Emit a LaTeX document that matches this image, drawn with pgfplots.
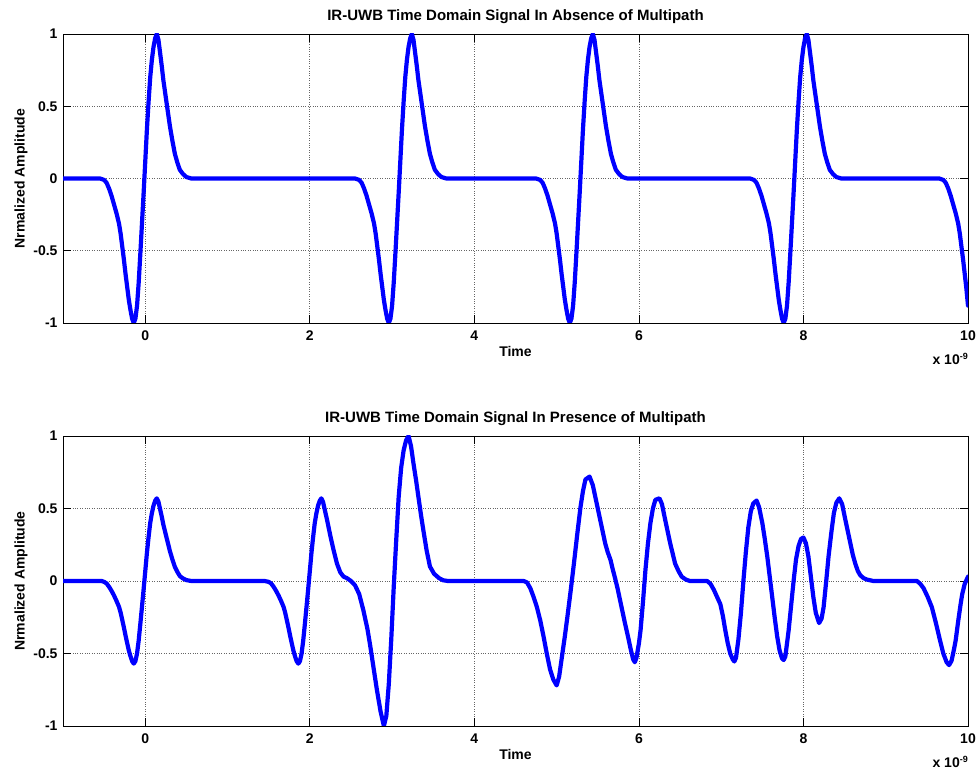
\documentclass[border=0pt]{standalone}
\usepackage{pgfplots}
\pgfplotsset{compat=1.18}
\usepackage{fontspec}
\setmainfont{Liberation Sans}
\definecolor{mblue}{RGB}{0,0,255}
\pgfplotsset{
 myax/.style={
  scale only axis, width=905pt, no markers, clip mode=individual,
  xmin=-1, xmax=10, ymin=-1, ymax=1,
  xtick={0,2,4,6,8,10}, ytick={-1,-0.5,0,0.5,1},
  xticklabels={0,2,4,6,8,10}, yticklabels={-1,-0.5,0,0.5,1},
  tick align=inside, major tick length=8pt,
  grid=major, major grid style={dotted, black!60, line width=0.7pt},
  axis line style={black, line width=0.8pt},
  tick style={black, line width=0.8pt},
  ticklabel style={font=\fontsize{14}{14}\selectfont\bfseries},
  xticklabel style={yshift=-4pt},
  yticklabel style={xshift=-2pt},
  title style={font=\fontsize{15}{15}\selectfont\bfseries, at={(axis description cs:0.5,1)}, anchor=south, yshift=0.5pt},
  every axis x label/.style={at={(axis description cs:0.5,0)}, anchor=north, yshift=-20pt, font=\fontsize{14}{14}\selectfont\bfseries},
  every axis y label/.style={at={(axis description cs:-0.0464,0.5)}, rotate=90, anchor=center, font=\fontsize{14}{14}\selectfont\bfseries},
  xlabel={Time}, ylabel={Nrmalized Amplitude},
  every axis plot/.append style={mblue, line width=4.2pt, line join=round, line cap=round},
 }
}
\begin{document}
\begin{tikzpicture}
\path[use as bounding box] (0pt,0pt) rectangle (977pt,773pt);
\begin{axis}[myax, at={(63pt,450pt)}, anchor=south west, height=289pt,
  title={IR-UWB Time Domain Signal In Absence of Multipath}]
\addplot coordinates {
(-1,0) (-0.55,0) (-0.50,-0.01) (-0.47,-0.03) (-0.44,-0.07) (-0.41,-0.12) (-0.38,-0.18) (-0.35,-0.24) (-0.32,-0.31) (-0.30,-0.38) (-0.28,-0.47) (-0.26,-0.56) (-0.24,-0.66) (-0.22,-0.75) (-0.20,-0.84) (-0.18,-0.91) (-0.16,-0.97) (-0.14,-1.00) (-0.12,-0.97) (-0.10,-0.88) (-0.08,-0.72) (-0.06,-0.52) (-0.04,-0.31) (-0.02,-0.10) (0.00,0.12) (0.02,0.34) (0.04,0.53) (0.06,0.70) (0.08,0.82) (0.10,0.91) (0.12,0.97) (0.14,1.00) (0.16,0.96) (0.18,0.87) (0.20,0.78) (0.22,0.68) (0.24,0.60) (0.26,0.52) (0.28,0.44) (0.30,0.36) (0.33,0.26) (0.36,0.17) (0.39,0.11) (0.42,0.06) (0.46,0.03) (0.50,0.01) (0.56,0)
(2.55,0) (2.60,-0.01) (2.63,-0.03) (2.66,-0.07) (2.69,-0.12) (2.72,-0.18) (2.75,-0.24) (2.78,-0.31) (2.80,-0.38) (2.82,-0.47) (2.84,-0.56) (2.86,-0.66) (2.88,-0.75) (2.90,-0.84) (2.92,-0.91) (2.94,-0.97) (2.96,-1.00) (2.98,-0.97) (3.00,-0.88) (3.02,-0.72) (3.04,-0.52) (3.06,-0.31) (3.08,-0.10) (3.10,0.12) (3.12,0.34) (3.14,0.53) (3.16,0.70) (3.18,0.82) (3.20,0.91) (3.22,0.97) (3.24,1.00) (3.26,0.96) (3.28,0.87) (3.30,0.78) (3.32,0.68) (3.34,0.60) (3.36,0.52) (3.38,0.44) (3.40,0.36) (3.43,0.26) (3.46,0.17) (3.49,0.11) (3.52,0.06) (3.56,0.03) (3.60,0.01) (3.66,0)
(4.75,0) (4.80,-0.01) (4.83,-0.03) (4.86,-0.07) (4.89,-0.12) (4.92,-0.18) (4.95,-0.24) (4.98,-0.31) (5.00,-0.38) (5.02,-0.47) (5.04,-0.56) (5.06,-0.66) (5.08,-0.75) (5.10,-0.84) (5.12,-0.91) (5.14,-0.97) (5.16,-1.00) (5.18,-0.97) (5.20,-0.88) (5.22,-0.72) (5.24,-0.52) (5.26,-0.31) (5.28,-0.10) (5.30,0.12) (5.32,0.34) (5.34,0.53) (5.36,0.70) (5.38,0.82) (5.40,0.91) (5.42,0.97) (5.44,1.00) (5.46,0.96) (5.48,0.87) (5.50,0.78) (5.52,0.68) (5.54,0.60) (5.56,0.52) (5.58,0.44) (5.60,0.36) (5.63,0.26) (5.66,0.17) (5.69,0.11) (5.72,0.06) (5.76,0.03) (5.80,0.01) (5.86,0)
(7.35,0) (7.40,-0.01) (7.43,-0.03) (7.46,-0.07) (7.49,-0.12) (7.52,-0.18) (7.55,-0.24) (7.58,-0.31) (7.60,-0.38) (7.62,-0.47) (7.64,-0.56) (7.66,-0.66) (7.68,-0.75) (7.70,-0.84) (7.72,-0.91) (7.74,-0.97) (7.76,-1.00) (7.78,-0.97) (7.80,-0.88) (7.82,-0.72) (7.84,-0.52) (7.86,-0.31) (7.88,-0.10) (7.90,0.12) (7.92,0.34) (7.94,0.53) (7.96,0.70) (7.98,0.82) (8.00,0.91) (8.02,0.97) (8.04,1.00) (8.06,0.96) (8.08,0.87) (8.10,0.78) (8.12,0.68) (8.14,0.60) (8.16,0.52) (8.18,0.44) (8.20,0.36) (8.23,0.26) (8.26,0.17) (8.29,0.11) (8.32,0.06) (8.36,0.03) (8.40,0.01) (8.46,0)
(9.65,0) (9.70,-0.01) (9.73,-0.03) (9.76,-0.07) (9.79,-0.12) (9.82,-0.18) (9.85,-0.24) (9.88,-0.31) (9.90,-0.38) (9.92,-0.47) (9.94,-0.56) (9.96,-0.66) (9.98,-0.76) (10.0,-0.88)
};
\node[anchor=north east, font=\fontsize{14}{14}\selectfont\bfseries, inner sep=0pt, yshift=-30pt] at (rel axis cs:1,0) {x 10\raisebox{5pt}{\fontsize{9}{9}\selectfont -9}};
\end{axis}
\begin{axis}[myax, at={(63pt,47pt)}, anchor=south west, height=290pt,
  title={IR-UWB Time Domain Signal In Presence of Multipath}]
\addplot coordinates {
(-1,0) (-0.53,0) (-0.50,-0.006) (-0.47,-0.017) (-0.44,-0.04) (-0.41,-0.068) (-0.38,-0.10) (-0.35,-0.137) (-0.32,-0.177) (-0.30,-0.217) (-0.28,-0.268) (-0.26,-0.32) (-0.24,-0.376) (-0.22,-0.428) (-0.20,-0.479) (-0.18,-0.519) (-0.16,-0.553) (-0.14,-0.57) (-0.12,-0.553) (-0.10,-0.50) (-0.08,-0.41) (-0.06,-0.296) (-0.04,-0.177) (-0.02,-0.057) (0.00,0.068) (0.02,0.194) (0.04,0.302) (0.06,0.40) (0.08,0.467) (0.10,0.519) (0.12,0.553) (0.14,0.57) (0.16,0.547) (0.18,0.496) (0.20,0.445) (0.22,0.388) (0.24,0.342) (0.26,0.296) (0.28,0.251) (0.30,0.205) (0.33,0.148) (0.36,0.097) (0.39,0.063) (0.42,0.034) (0.46,0.017) (0.50,0.006) (0.56,0)
(1.45,0) (1.50,-0.006) (1.53,-0.017) (1.56,-0.04) (1.59,-0.068) (1.62,-0.10) (1.65,-0.137) (1.68,-0.177) (1.70,-0.217) (1.72,-0.268) (1.74,-0.32) (1.76,-0.376) (1.78,-0.428) (1.80,-0.479) (1.82,-0.519) (1.84,-0.553) (1.86,-0.57) (1.88,-0.553) (1.90,-0.50) (1.92,-0.41) (1.94,-0.296) (1.96,-0.177) (1.98,-0.057) (2.00,0.068) (2.02,0.194) (2.04,0.302) (2.06,0.40) (2.08,0.467) (2.10,0.519) (2.12,0.553) (2.14,0.57) (2.16,0.547) (2.18,0.496) (2.21,0.42) (2.25,0.31) (2.29,0.21) (2.33,0.12) (2.37,0.06) (2.41,0.03) (2.45,0.02) (2.50,0.00) (2.55,-0.03) (2.60,-0.09) (2.65,-0.20) (2.70,-0.33) (2.735,-0.45) (2.775,-0.60) (2.815,-0.75) (2.86,-0.90) (2.90,-1.00) (2.93,-0.93) (2.96,-0.71) (2.99,-0.40) (3.02,-0.04) (3.05,0.28) (3.08,0.58) (3.11,0.78) (3.14,0.90) (3.17,0.97) (3.20,1.00) (3.23,0.93) (3.26,0.81) (3.29,0.70) (3.32,0.58) (3.35,0.46) (3.38,0.35) (3.42,0.21) (3.46,0.10) (3.51,0.05) (3.57,0.02) (3.62,0.005) (3.68,0)
(4.60,0) (4.64,-0.01) (4.68,-0.05) (4.72,-0.11) (4.76,-0.18) (4.80,-0.27) (4.84,-0.38) (4.88,-0.50) (4.92,-0.61) (4.96,-0.68) (5.00,-0.72) (5.03,-0.66) (5.065,-0.52) (5.10,-0.38) (5.13,-0.25) (5.17,-0.07) (5.21,0.12) (5.25,0.32) (5.29,0.51) (5.32,0.62) (5.35,0.70) (5.40,0.72) (5.44,0.66) (5.47,0.58) (5.50,0.50) (5.53,0.42) (5.56,0.34) (5.59,0.26) (5.62,0.20) (5.655,0.145) (5.68,0.085) (5.71,0.02) (5.74,-0.05) (5.77,-0.13) (5.80,-0.21) (5.83,-0.29) (5.87,-0.39) (5.90,-0.47) (5.93,-0.54) (5.95,-0.56) (5.97,-0.53) (6.00,-0.43) (6.02,-0.34) (6.05,-0.14) (6.08,0.08) (6.11,0.26) (6.14,0.40) (6.17,0.50) (6.20,0.56) (6.25,0.57) (6.28,0.53) (6.32,0.42) (6.35,0.34) (6.38,0.26) (6.41,0.19) (6.44,0.12) (6.48,0.07) (6.52,0.03) (6.57,0.01) (6.62,0)
(6.83,0) (6.87,-0.02) (6.91,-0.06) (6.95,-0.11) (6.99,-0.16) (7.02,-0.24) (7.05,-0.34) (7.08,-0.43) (7.11,-0.50) (7.14,-0.54) (7.16,-0.555) (7.18,-0.53) (7.21,-0.40) (7.24,-0.22) (7.27,0.0) (7.30,0.20) (7.33,0.37) (7.36,0.48) (7.39,0.535) (7.43,0.555) (7.46,0.51) (7.50,0.40) (7.53,0.29) (7.56,0.17) (7.59,0.03) (7.62,-0.11) (7.65,-0.25) (7.68,-0.38) (7.71,-0.48) (7.74,-0.535) (7.76,-0.545) (7.78,-0.52) (7.80,-0.43) (7.82,-0.34) (7.85,-0.17) (7.88,0.0) (7.91,0.15) (7.94,0.24) (7.97,0.29) (8.00,0.30) (8.03,0.26) (8.06,0.17) (8.09,0.03) (8.12,-0.11) (8.15,-0.22) (8.19,-0.29) (8.22,-0.26) (8.245,-0.18) (8.275,-0.01) (8.305,0.17) (8.34,0.34) (8.37,0.47) (8.40,0.54) (8.435,0.57) (8.47,0.53) (8.51,0.42) (8.54,0.34) (8.57,0.26) (8.60,0.18) (8.63,0.12) (8.66,0.07) (8.69,0.04) (8.73,0.02) (8.77,0.01) (8.85,0)
(9.38,0) (9.42,-0.02) (9.46,-0.05) (9.51,-0.11) (9.56,-0.18) (9.61,-0.29) (9.66,-0.41) (9.70,-0.50) (9.74,-0.56) (9.77,-0.58) (9.80,-0.55) (9.83,-0.47) (9.85,-0.41) (9.88,-0.28) (9.91,-0.16) (9.93,-0.09) (9.96,-0.02) (10.0,0.03)
};
\node[anchor=north east, font=\fontsize{14}{14}\selectfont\bfseries, inner sep=0pt, yshift=-30pt] at (rel axis cs:1,0) {x 10\raisebox{5pt}{\fontsize{9}{9}\selectfont -9}};
\end{axis}
\end{tikzpicture}
\end{document}
